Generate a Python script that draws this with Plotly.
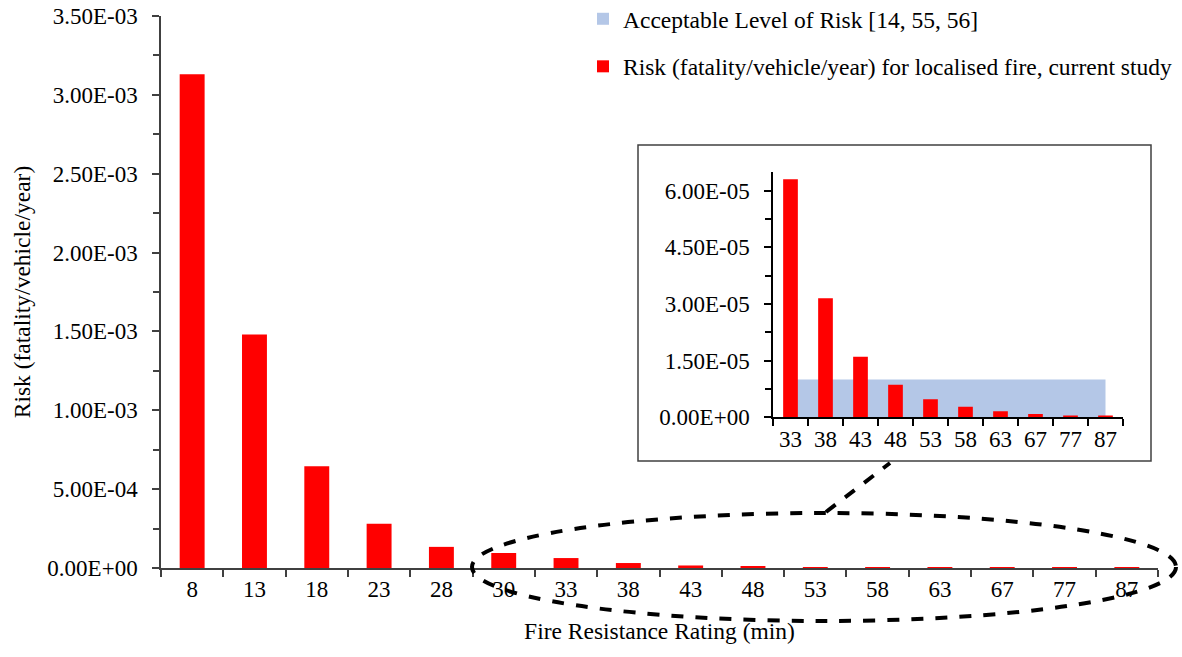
import plotly.graph_objects as go

# ---------------- data ----------------
categories = ["8", "13", "18", "23", "28", "30", "33", "38", "43", "48",
              "53", "58", "63", "67", "77", "87"]
risk = [3.13e-3, 1.48e-3, 6.45e-4, 2.80e-4, 1.34e-4, 9.5e-5, 6.3e-5, 3.15e-5,
        1.6e-5, 8.6e-6, 4.8e-6, 2.8e-6, 1.6e-6, 9.0e-7, 5.0e-7, 5.0e-7]

inset_categories = ["33", "38", "43", "48", "53", "58", "63", "67", "77", "87"]
inset_risk = [6.3e-5, 3.15e-5, 1.6e-5, 8.6e-6, 4.8e-6, 2.8e-6, 1.6e-6, 9.0e-7, 5.0e-7, 5.0e-7]
acceptable = [1.0e-5, 1.0e-5, 1.0e-5, 1.0e-5, 1.0e-5, 1.0e-5, 1.0e-5, 1.0e-5, 1.0e-5, 1.0e-5]

main_yticks = [0, 5e-4, 1e-3, 1.5e-3, 2e-3, 2.5e-3, 3e-3, 3.5e-3]
inset_yticks = [0, 1.5e-5, 3e-5, 4.5e-5, 6e-5]

name_risk = "Risk (fatality/vehicle/year) for localised fire, current study"
name_accept = "Acceptable Level of Risk [14, 55, 56]"

# ---------------- style ----------------
FONT = "Liberation Serif, Times New Roman, serif"
RED = "#FF0000"
BLUE = "#B4C7E7"
AXC = "#404040"

W, H = 1182, 657
L, R, T, B = 161, 24, 16, 89
PW, PH = W - L - R, H - T - B


def px_x(x):
    return (x - L) / PW


def px_y(y):
    return (H - B - y) / PH


def fmt(v):
    return f"{v:.2E}"


INSET_RANGE = [0, 6.5e-5]

fig = go.Figure()

# main bars
fig.add_trace(go.Bar(
    x=categories, y=risk, name=name_risk, marker=dict(color=RED, line=dict(width=0)),
    width=0.4, xaxis="x", yaxis="y", legendgroup="r", legendrank=2,
))

# legend entry for acceptable level (square swatch like the reference)
fig.add_trace(go.Bar(
    x=[None], y=[None], name=name_accept, marker=dict(color=BLUE, line=dict(width=0)),
    xaxis="x", yaxis="y", legendgroup="a", legendrank=1,
))

# inset: acceptable level area (drawn underneath the bars)
fig.add_trace(go.Scatter(
    x=inset_categories, y=acceptable, mode="lines", fill="tozeroy",
    fillcolor=BLUE, line=dict(width=0, color=BLUE), showlegend=False,
    xaxis="x2", yaxis="y2", hoverinfo="skip",
))

# inset bars (on an overlaying axis so they sit above the area)
fig.add_trace(go.Bar(
    x=inset_categories, y=inset_risk, marker=dict(color=RED, line=dict(width=0)),
    width=0.42, showlegend=False, xaxis="x2", yaxis="y3",
))

tickfont = dict(family=FONT, size=23, color="black")
titlefont = dict(family=FONT, size=23.5, color="black")

fig.update_layout(
    width=W, height=H,
    margin=dict(l=L, r=R, t=T, b=B, autoexpand=False),
    paper_bgcolor="white", plot_bgcolor="rgba(0,0,0,0)",
    font=dict(family=FONT, size=23, color="black"),
    barmode="overlay",
    showlegend=True,
    legend=dict(
        x=px_x(583), y=px_y(-3), xanchor="left", yanchor="top",
        bgcolor="rgba(0,0,0,0)", font=dict(family=FONT, size=23.5, color="black"),
        tracegroupgap=14, traceorder="grouped",
    ),
    xaxis=dict(
        type="category", domain=[0, 1], anchor="y",
        showline=True, linecolor=AXC, linewidth=1.5,
        ticks="outside", tickson="boundaries", ticklen=7, tickcolor=AXC, tickwidth=1.5,
        tickfont=tickfont, showgrid=False, zeroline=False,
        title=dict(text="Fire Resistance Rating (min)", font=titlefont, standoff=21),
    ),
    yaxis=dict(
        domain=[0, 1], anchor="x", range=[0, 3.5e-3],
        tickmode="array", tickvals=main_yticks, ticktext=[fmt(v) for v in main_yticks],
        showline=True, linecolor=AXC, linewidth=1.5,
        ticks="outside", ticklen=7, tickcolor=AXC, tickwidth=1.5,
        minor=dict(tickmode="linear", tick0=0, dtick=2.5e-4, ticks="outside",
                   ticklen=6, tickcolor=AXC, tickwidth=1.5, showgrid=False),
        tickfont=tickfont, showgrid=False, zeroline=False, ticklabelstandoff=10,
        title=dict(text="Risk (fatality/vehicle/year)", font=titlefont, standoff=10),
    ),
    xaxis2=dict(
        type="category", domain=[px_x(773), px_x(1123)], anchor="y2",
        showline=True, linecolor="black", linewidth=1.5,
        ticks="outside", tickson="boundaries", ticklen=7, tickcolor="black", tickwidth=1.5,
        tickfont=tickfont, showgrid=False, zeroline=False,
    ),
    yaxis2=dict(
        domain=[px_y(417.3), px_y(171.7)], anchor="x2", range=INSET_RANGE,
        tickmode="array", tickvals=inset_yticks, ticktext=[fmt(v) for v in inset_yticks],
        showline=True, linecolor="black", linewidth=1.5,
        ticks="outside", ticklen=7, tickcolor="black", tickwidth=1.5,
        minor=dict(tickmode="linear", tick0=0, dtick=7.5e-6, ticks="outside",
                   ticklen=6, tickcolor="black", tickwidth=1.5, showgrid=False),
        tickfont=tickfont, showgrid=False, zeroline=False, ticklabelstandoff=10,
    ),
    yaxis3=dict(
        overlaying="y2", anchor="x2", range=INSET_RANGE,
        showline=False, showticklabels=False, ticks="", showgrid=False, zeroline=False,
    ),
    shapes=[
        # inset frame
        dict(type="rect", xref="paper", yref="paper",
             x0=px_x(638), x1=px_x(1151), y0=px_y(461), y1=px_y(145),
             fillcolor="white", line=dict(color=AXC, width=1.5), layer="below"),
        # dashed ellipse marking the zoomed region
        dict(type="circle", xref="paper", yref="paper",
             x0=px_x(472), x1=px_x(1176), y0=px_y(621), y1=px_y(513),
             line=dict(color="black", width=4, dash="dash"), layer="above"),
        # connector from ellipse to inset
        dict(type="line", xref="paper", yref="paper",
             x0=px_x(826), y0=px_y(512), x1=px_x(890), y1=px_y(463),
             line=dict(color="black", width=4, dash="dash"), layer="above"),
    ],
)

fig.write_html(
    "out.html",
    config={"displayModeBar": False},
    post_script="document.body.style.margin='0';document.body.style.overflow='hidden';",
)
